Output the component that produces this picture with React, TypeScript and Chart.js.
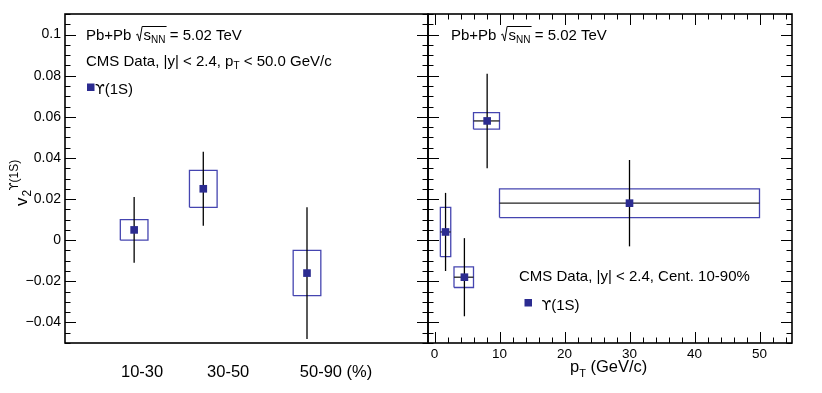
import React, { useEffect, useRef } from 'react';
import { Chart, registerables } from 'chart.js';
Chart.register(...registerables);

const FONT = '"Liberation Sans", Arial, Helvetica, sans-serif';
const GREEK = '"DejaVu Sans", "Liberation Sans", sans-serif';

// ---- Left panel: v2 vs centrality ----
const centLabels = ['10-30', '30-50', '50-90 (%)'];
const centX = [20, 40, 70];
const centV2 = [0.005, 0.025, -0.016];
const centStat = [0.016, 0.018, 0.032];
const centSyst = [0.005, 0.009, 0.011];

// ---- Right panel: v2 vs pT ----
const ptX = [1.7, 4.6, 8.1, 30];
const ptLow = [0.9, 3, 6, 10];
const ptHigh = [2.5, 6, 10, 50];
const ptV2 = [0.004, -0.018, 0.058, 0.018];
const ptStat = [0.019, 0.019, 0.023, 0.021];
const ptSyst = [0.012, 0.005, 0.004, 0.007];

const yTicks = [-0.04, -0.02, 0, 0.02, 0.04, 0.06, 0.08, 0.1];
const ptTicks = [0, 10, 20, 30, 40, 50];

// layout / style constants
const W = 822, H = 393;
const TOP = 14, BOTTOM = 343, L_LEFT = 65, MID = 428, R_RIGHT = 792;
const CENT_LABEL_POS = [22.3, 47.2, 78.4];
const CENT_BOX_HALF = 4;
const MARK = '#2b2b90';
const BOX = '#4545b0';

const fmtY = (v: number) => {
  const r = Math.round(v * 1000) / 1000;
  return r < 0 ? '\u2212' + String(-r) : String(r);
};

type Seg = { t: string; size: number; dy?: number; fam?: string };
function drawSegs(ctx: CanvasRenderingContext2D, x: number, y: number, segs: Seg[]) {
  let cx = x;
  for (const s of segs) {
    ctx.font = `${s.size}px ${s.fam || FONT}`;
    ctx.fillText(s.t, cx, y + (s.dy || 0));
    cx += ctx.measureText(s.t).width;
  }
  return cx;
}

function drawPbPb(ctx: CanvasRenderingContext2D, x: number, y: number) {
  ctx.fillStyle = '#000';
  ctx.textBaseline = 'alphabetic';
  ctx.textAlign = 'left';
  let cx = drawSegs(ctx, x, y, [{ t: 'Pb+Pb ', size: 15 }]);
  ctx.font = `15px ${FONT}`;
  const sW = ctx.measureText('s').width;
  ctx.font = `10px ${FONT}`;
  const nnW = ctx.measureText('NN').width;
  ctx.strokeStyle = '#000';
  ctx.lineWidth = 1;
  ctx.beginPath();
  ctx.moveTo(cx + 0.5, y - 5);
  ctx.lineTo(cx + 2, y - 6);
  ctx.lineTo(cx + 4, y + 1);
  ctx.lineTo(cx + 6.5, y - 13.5);
  ctx.lineTo(cx + 8 + sW + nnW + 1, y - 13.5);
  ctx.stroke();
  cx += 8;
  drawSegs(ctx, cx, y, [
    { t: 's', size: 15 },
    { t: 'NN', size: 10, dy: 3 },
    { t: ' = 5.02 TeV', size: 15 },
  ]);
}

function tickPlugin(opts: { xMajor?: number[]; xMinor?: number[]; yMajor: number[]; yMinor: number[] }) {
  return {
    id: 'rootTicks' + Math.random(),
    afterDatasetsDraw(chart: any) {
      const ctx = chart.ctx as CanvasRenderingContext2D;
      const a = chart.chartArea;
      const xs = chart.scales.x, ys = chart.scales.y;
      ctx.save();
      ctx.strokeStyle = '#000';
      ctx.lineWidth = 1;
      ctx.beginPath();
      const yt = (v: number, len: number) => {
        const p = Math.round(ys.getPixelForValue(v)) + 0.5;
        ctx.moveTo(a.left, p); ctx.lineTo(a.left + len, p);
        ctx.moveTo(a.right, p); ctx.lineTo(a.right - len, p);
      };
      opts.yMinor.forEach((v) => yt(v, 5.5));
      opts.yMajor.forEach((v) => yt(v, 11));
      const xt = (v: number, len: number) => {
        const p = Math.round(xs.getPixelForValue(v)) + 0.5;
        ctx.moveTo(p, a.top); ctx.lineTo(p, a.top + len);
        ctx.moveTo(p, a.bottom); ctx.lineTo(p, a.bottom - len);
      };
      (opts.xMinor || []).forEach((v) => xt(v, 5.5));
      (opts.xMajor || []).forEach((v) => xt(v, 11));
      ctx.stroke();
      ctx.lineWidth = 1.6;
      ctx.strokeRect(a.left, a.top, a.right - a.left, a.bottom - a.top);
      ctx.restore();
    },
  };
}

function buildDatasets(xs: number[], ys: number[], stat: number[], syst: number[], lo: number[], hi: number[], horiz: boolean) {
  const ds: any[] = [];
  xs.forEach((x, i) => {
    const y = ys[i];
    ds.push({
      data: [
        { x: lo[i], y: y - syst[i] }, { x: hi[i], y: y - syst[i] },
        { x: hi[i], y: y + syst[i] }, { x: lo[i], y: y + syst[i] }, { x: lo[i], y: y - syst[i] },
      ],
      showLine: true, borderColor: BOX, borderWidth: 1.3, pointRadius: 0, fill: false, order: 3,
    });
    ds.push({
      data: [{ x, y: y - stat[i] }, { x, y: y + stat[i] }],
      showLine: true, borderColor: '#000', borderWidth: 1.3, pointRadius: 0, fill: false, order: 2,
    });
    if (horiz) {
      ds.push({
        data: [{ x: lo[i], y }, { x: hi[i], y }],
        showLine: true, borderColor: '#222', borderWidth: 1.3, pointRadius: 0, fill: false, order: 2,
      });
    }
  });
  ds.push({
    data: xs.map((x, i) => ({ x, y: ys[i] })),
    showLine: false, pointStyle: 'rect', pointRadius: 5.4,
    backgroundColor: MARK, borderColor: MARK, borderWidth: 0, order: 0,
  });
  return ds;
}

const yMinorList: number[] = [];
for (let k = -10; k <= 22; k++) yMinorList.push(k * 0.005);
const xMinorList: number[] = [];
for (let k = 0; k <= 27; k++) xMinorList.push(k * 2);

export default function App() {
  const leftRef = useRef<HTMLCanvasElement>(null);
  const rightRef = useRef<HTMLCanvasElement>(null);

  useEffect(() => {
    document.body.style.margin = '0';
    const common: any = {
      responsive: false,
      animation: false,
      devicePixelRatio: 1,
      plugins: { legend: { display: false }, tooltip: { enabled: false } },
      events: [],
    };

    const left = new Chart(leftRef.current!, {
      type: 'scatter',
      data: {
        datasets: buildDatasets(
          centX, centV2, centStat, centSyst,
          centX.map((x) => x - CENT_BOX_HALF), centX.map((x) => x + CENT_BOX_HALF), false,
        ),
      },
      options: {
        ...common,
        layout: { padding: { top: TOP, right: W - MID, left: 0, bottom: 0 } },
        scales: {
          x: {
            type: 'linear', min: 0, max: 105,
            grid: { display: false, drawTicks: false },
            border: { display: false },
            afterBuildTicks: (s: any) => { s.ticks = CENT_LABEL_POS.map((v) => ({ value: v })); },
            afterFit: (s: any) => { s.height = H - BOTTOM; },
            ticks: {
              autoSkip: false, maxRotation: 0, padding: 20, color: '#000',
              font: { family: FONT, size: 16.5 },
              callback: (_v: any, i: number) => centLabels[i],
            },
          },
          y: {
            type: 'linear', min: -0.05, max: 0.11,
            grid: { display: false, drawTicks: false },
            border: { display: false },
            afterBuildTicks: (s: any) => { s.ticks = yTicks.map((v) => ({ value: v })); },
            afterFit: (s: any) => { s.width = L_LEFT; },
            ticks: {
              autoSkip: false, padding: 4, color: '#000',
              font: { family: FONT, size: 14 },
              callback: (v: any) => fmtY(Number(v)),
            },
          },
        },
      },
      plugins: [
        tickPlugin({ yMajor: yTicks, yMinor: yMinorList }),
        {
          id: 'leftText',
          afterDraw(chart: any) {
            const ctx = chart.ctx as CanvasRenderingContext2D;
            ctx.save();
            drawPbPb(ctx, 86, 40);
            drawSegs(ctx, 86, 65.5, [
              { t: 'CMS Data, |y| < 2.4, p', size: 15 },
              { t: 'T', size: 10, dy: 3 },
              { t: ' < 50.0 GeV/c', size: 15 },
            ]);
            ctx.fillStyle = MARK;
            ctx.fillRect(87, 83.5, 7.5, 7.5);
            ctx.fillStyle = '#000';
            drawSegs(ctx, 95, 94, [
              { t: '\u03D2', size: 14, fam: GREEK },
              { t: '(1S)', size: 15 },
            ]);
            // y title
            ctx.translate(27, 206);
            ctx.rotate(-Math.PI / 2);
            ctx.font = `17px ${FONT}`;
            ctx.fillText('v', 0, 0);
            const vw = ctx.measureText('v').width;
            ctx.font = `12px ${FONT}`;
            ctx.fillText('2', vw + 1, 4);
            drawSegs(ctx, vw + 7, -9, [
              { t: '\u03D2', size: 11.5, fam: GREEK },
              { t: '(1S)', size: 12 },
            ]);
            ctx.restore();
          },
        },
      ],
    } as any);

    const right = new Chart(rightRef.current!, {
      type: 'scatter',
      data: { datasets: buildDatasets(ptX, ptV2, ptStat, ptSyst, ptLow, ptHigh, true) },
      options: {
        ...common,
        layout: { padding: { top: TOP, right: W - R_RIGHT, left: 0, bottom: 0 } },
        scales: {
          x: {
            type: 'linear', min: -1, max: 55,
            grid: { display: false, drawTicks: false },
            border: { display: false },
            afterBuildTicks: (s: any) => { s.ticks = ptTicks.map((v) => ({ value: v })); },
            afterFit: (s: any) => { s.height = H - BOTTOM; },
            ticks: {
              autoSkip: false, maxRotation: 0, padding: 3, color: '#000',
              font: { family: FONT, size: 13.5 },
            },
          },
          y: {
            type: 'linear', min: -0.05, max: 0.11,
            grid: { display: false, drawTicks: false },
            border: { display: false },
            afterBuildTicks: (s: any) => { s.ticks = yTicks.map((v) => ({ value: v })); },
            afterFit: (s: any) => { s.width = MID; },
            ticks: { display: false },
          },
        },
      },
      plugins: [
        tickPlugin({ xMajor: ptTicks, xMinor: xMinorList, yMajor: yTicks, yMinor: yMinorList }),
        {
          id: 'rightText',
          afterDraw(chart: any) {
            const ctx = chart.ctx as CanvasRenderingContext2D;
            ctx.save();
            drawPbPb(ctx, 451, 40);
            ctx.fillStyle = '#000';
            drawSegs(ctx, 519, 281, [{ t: 'CMS Data, |y| < 2.4, Cent. 10-90%', size: 15 }]);
            ctx.fillStyle = MARK;
            ctx.fillRect(524.5, 299, 7.5, 7.5);
            ctx.fillStyle = '#000';
            drawSegs(ctx, 541.5, 310, [
              { t: '\u03D2', size: 14, fam: GREEK },
              { t: '(1S)', size: 15 },
            ]);
            drawSegs(ctx, 570, 372, [
              { t: 'p', size: 16.5 },
              { t: 'T', size: 11, dy: 5 },
              { t: ' (GeV/c)', size: 16.5 },
            ]);
            ctx.restore();
          },
        },
      ],
    } as any);

    return () => { left.destroy(); right.destroy(); };
  }, []);

  const cs: React.CSSProperties = { position: 'absolute', left: 0, top: 0, width: W, height: H };
  return (
    <div style={{ position: 'relative', width: W, height: H, background: '#fff' }}>
      <canvas ref={leftRef} width={W} height={H} style={cs} />
      <canvas ref={rightRef} width={W} height={H} style={cs} />
    </div>
  );
}
